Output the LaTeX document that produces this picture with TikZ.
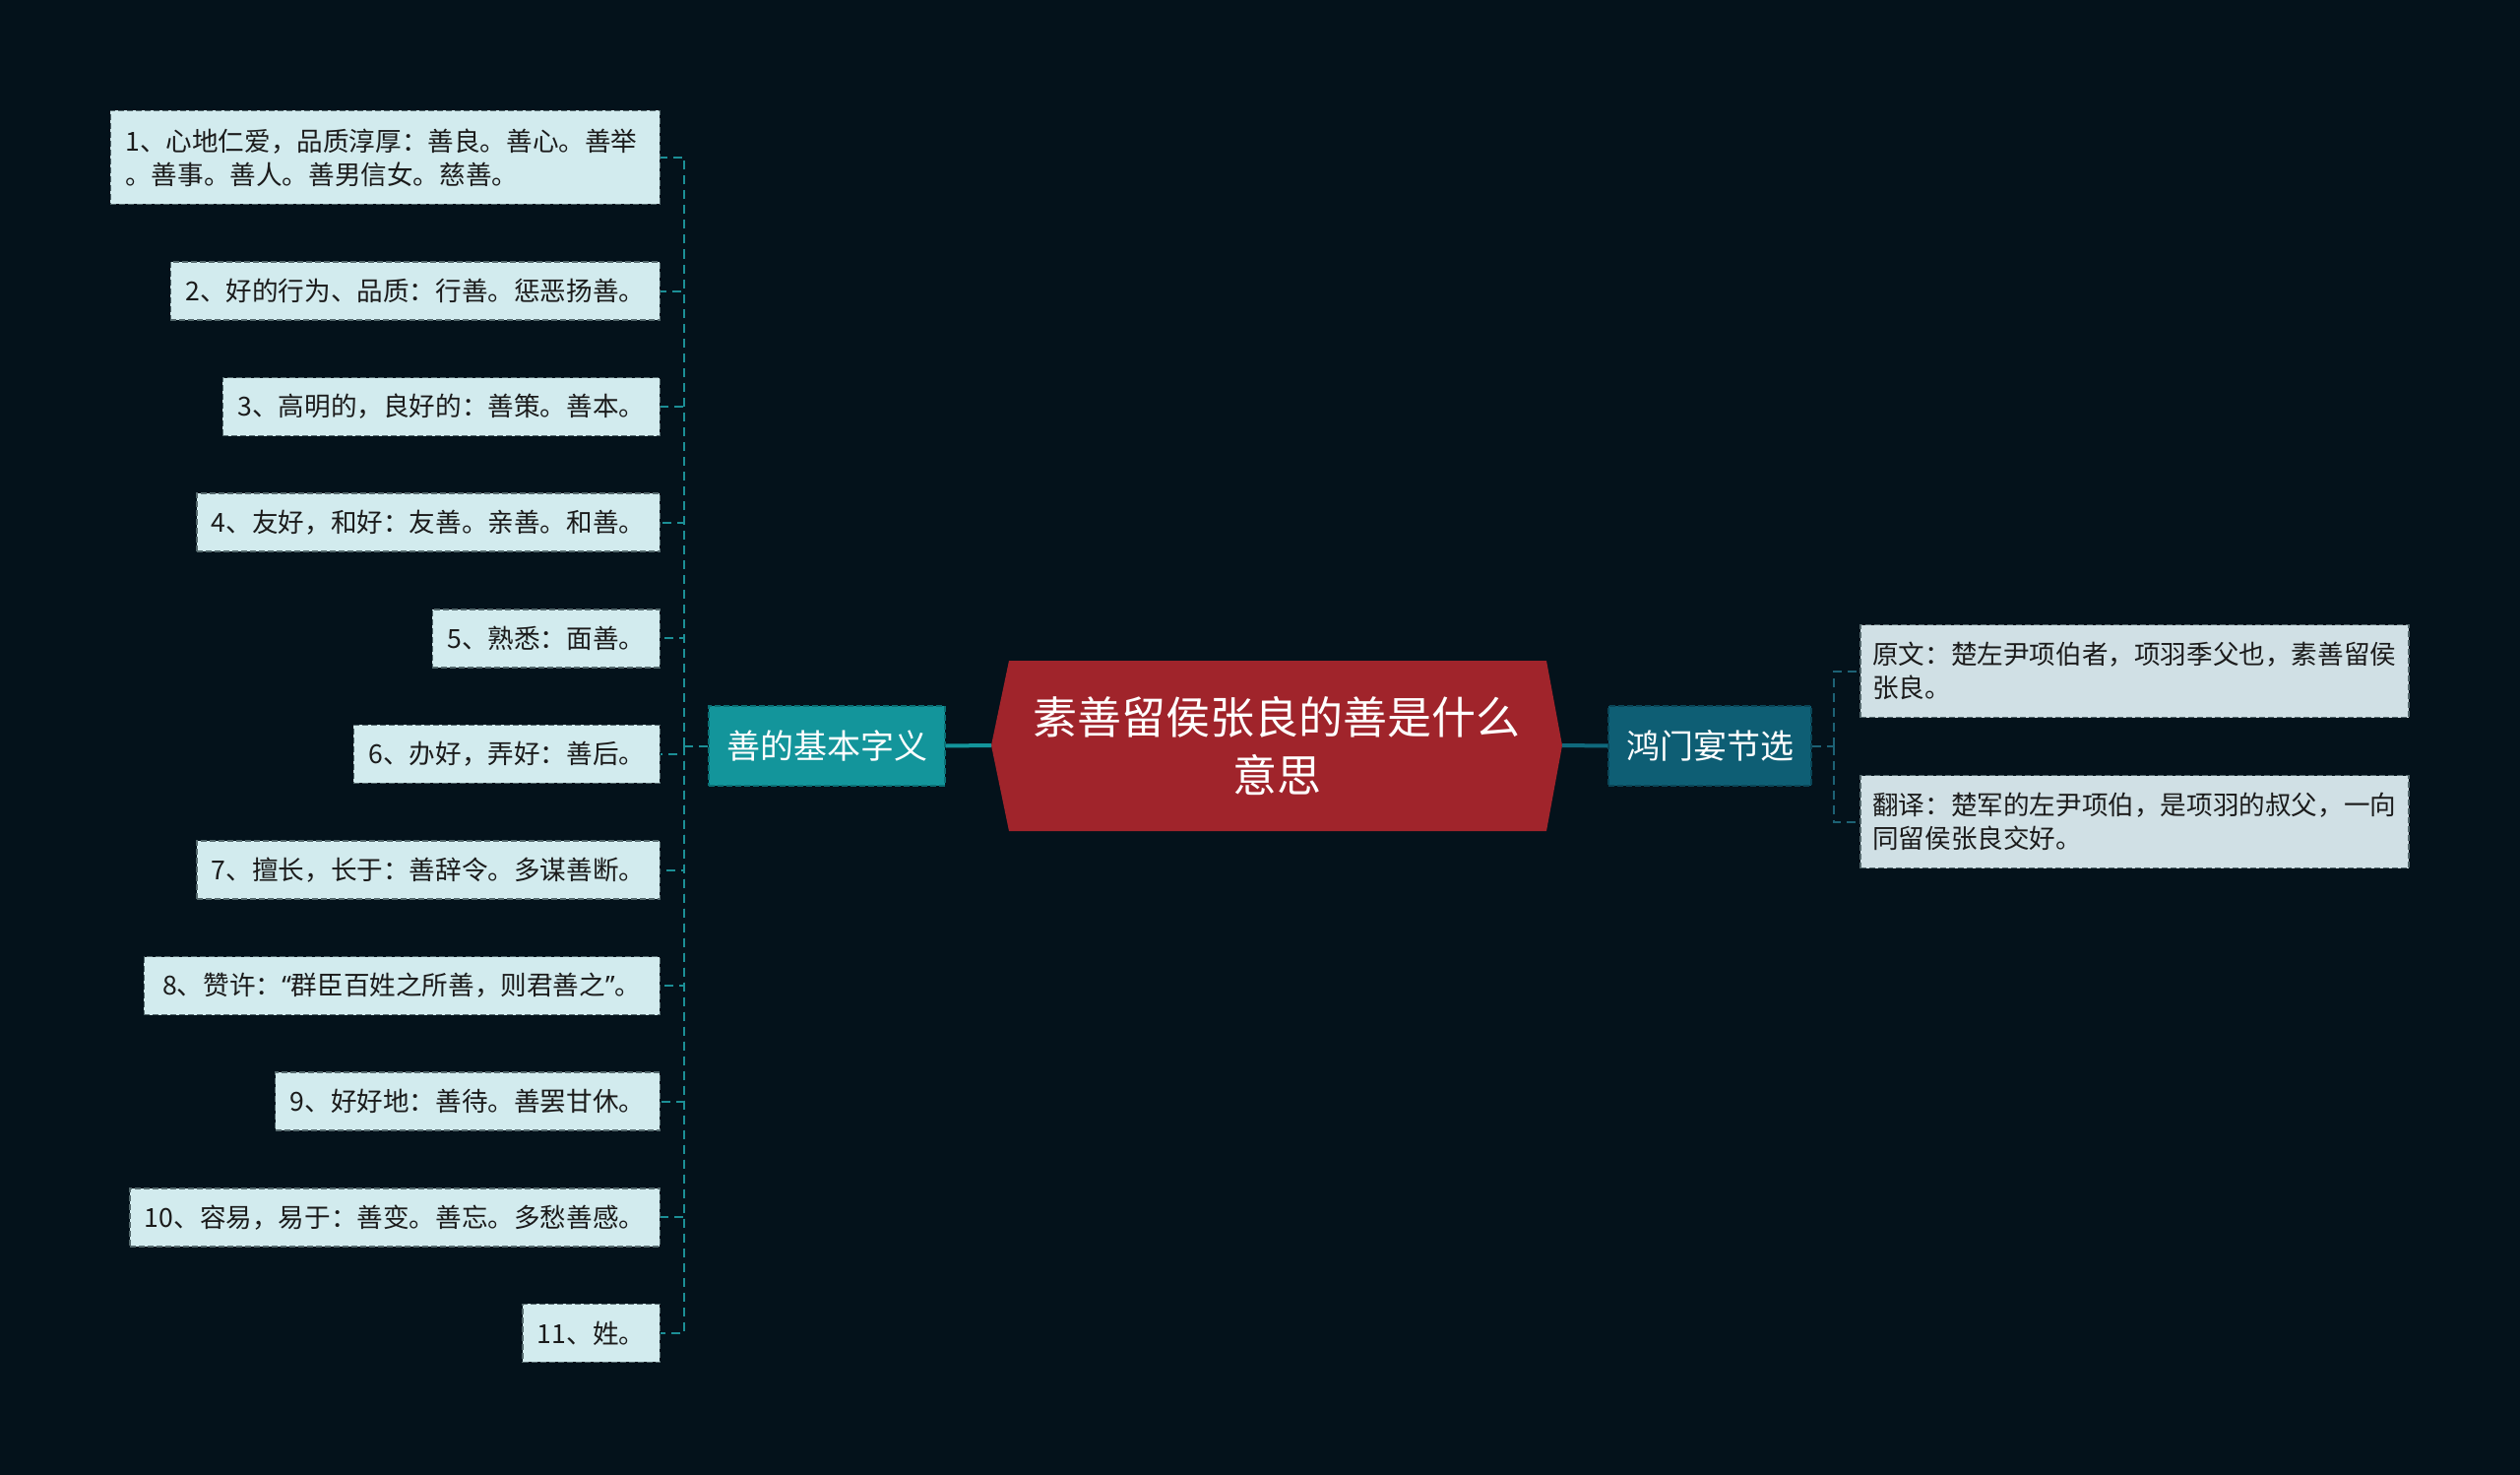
\documentclass[tikz,border=0pt]{standalone}
\usepackage{fontspec}
\setmainfont{Noto Sans CJK SC}
\newfontfamily\latinq{Noto Sans}
\definecolor{bg}{HTML}{04121B}
\definecolor{centerred}{HTML}{A0242B}
\definecolor{lbranch}{HTML}{13959B}
\definecolor{lbranchb}{HTML}{0B6F74}
\definecolor{rbranch}{HTML}{0E5E74}
\definecolor{rbranchb}{HTML}{0A4556}
\definecolor{leafL}{HTML}{D2EBEE}
\definecolor{leafR}{HTML}{D0E0E5}
\definecolor{leafb}{HTML}{55696D}
\definecolor{txt}{HTML}{1B1B1B}
\definecolor{ltrunkc}{HTML}{1C8F96}
\definecolor{rtrunkc}{HTML}{1D6275}
\begin{document}
\begin{tikzpicture}[x=1pt,y=-1pt,
  leafbox/.style={draw=leafb, dash pattern=on 6pt off 3pt, line width=1.5pt,
    font=\fontsize{26.6}{34}\selectfont, text=txt, inner xsep=15pt, inner ysep=0pt,
    minimum height=59pt, align=left},
  leafl/.style={leafbox, fill=leafL, anchor=east},
  leafr/.style={leafbox, fill=leafR, anchor=west, inner xsep=12pt, minimum width=557pt, minimum height=94pt},
  branchbox/.style={dash pattern=on 6pt off 3pt, line width=1.5pt, text=white,
    font=\fontsize{34}{40}\selectfont, inner xsep=18pt, inner ysep=0pt, minimum height=81pt},
  ltrunk/.style={draw=ltrunkc, line width=2pt, dash pattern=on 9pt off 6pt},
  rtrunk/.style={draw=rtrunkc, line width=2pt, dash pattern=on 9pt off 6pt},
  mainline/.style={line width=4pt}
]
\fill[bg] (0,0) rectangle (2560,1498);
\useasboundingbox (0,0) rectangle (2560,1498);

% center node
\coordinate (cL) at (1007,757);
\coordinate (cR) at (1587,757);
\fill[centerred] (cL) -- (1025,671) -- (1571,671) -- (cR) -- (1571,844) -- (1025,844) -- cycle;
\node[text=white, font=\fontsize{45}{59}\selectfont, align=center] (C) at (1297,757) {素善留侯张良的善是什么\\意思};

% branches
\node[branchbox, fill=lbranch, draw=lbranchb] (LB) at (840,757.5) {善的基本字义};
\node[branchbox, fill=rbranch, draw=rbranchb] (RB) at (1737,757.5) {鸿门宴节选};

\draw[mainline, draw=lbranch] (LB.east) -- (cL);
\draw[mainline, draw=rbranch!80!lbranch] (cR) -- (RB.west);

% left leaves
\node[leafl, minimum height=95pt, text width=528pt] (L1) at (671,160) {1、心地仁爱，品质淳厚：善良。善心。善举\\。善事。善人。善男信女。慈善。};
\node[leafl, minimum width=495pt] (L2) at (671,295.5) {2、好的行为、品质：行善。惩恶扬善。};
\node[leafl, minimum width=441pt] (L3) at (671,413.1) {3、高明的，良好的：善策。善本。};
\node[leafl, minimum width=469pt] (L4) at (671,530.7) {4、友好，和好：友善。亲善。和善。};
\node[leafl, minimum width=230pt] (L5) at (671,648.3) {5、熟悉：面善。};
\node[leafl, minimum width=309pt] (L6) at (671,765.9) {6、办好，弄好：善后。};
\node[leafl, minimum width=469pt] (L7) at (671,883.5) {7、擅长，长于：善辞令。多谋善断。};
\node[leafl, minimum width=524pt] (L8) at (671,1001.1) {8、赞许：{\latinq “}群臣百姓之所善，则君善之{\latinq ”}。};
\node[leafl, minimum width=389pt] (L9) at (671,1118.7) {9、好好地：善待。善罢甘休。};
\node[leafl, minimum width=532pt] (L10) at (671,1236.3) {10、容易，易于：善变。善忘。多愁善感。};
\node[leafl, minimum width=129pt] (L11) at (671,1353.9) {11、姓。};

\coordinate (lt) at (695,757.5);
\draw[ltrunk] (LB.west) -- (lt);
\foreach \i in {1,...,11} {\draw[ltrunk] (lt) |- (L\i.east);}

% right leaves
\node[leafr] (R1) at (1889,681.5) {原文：楚左尹项伯者，项羽季父也，素善留侯\\张良。};
\node[leafr] (R2) at (1889,834.5) {翻译：楚军的左尹项伯，是项羽的叔父，一向\\同留侯张良交好。};

\coordinate (rt) at (1863,757.5);
\draw[rtrunk] (RB.east) -- (rt);
\draw[rtrunk] (rt) |- (R1.west);
\draw[rtrunk] (rt) |- (R2.west);
\end{tikzpicture}
\end{document}
